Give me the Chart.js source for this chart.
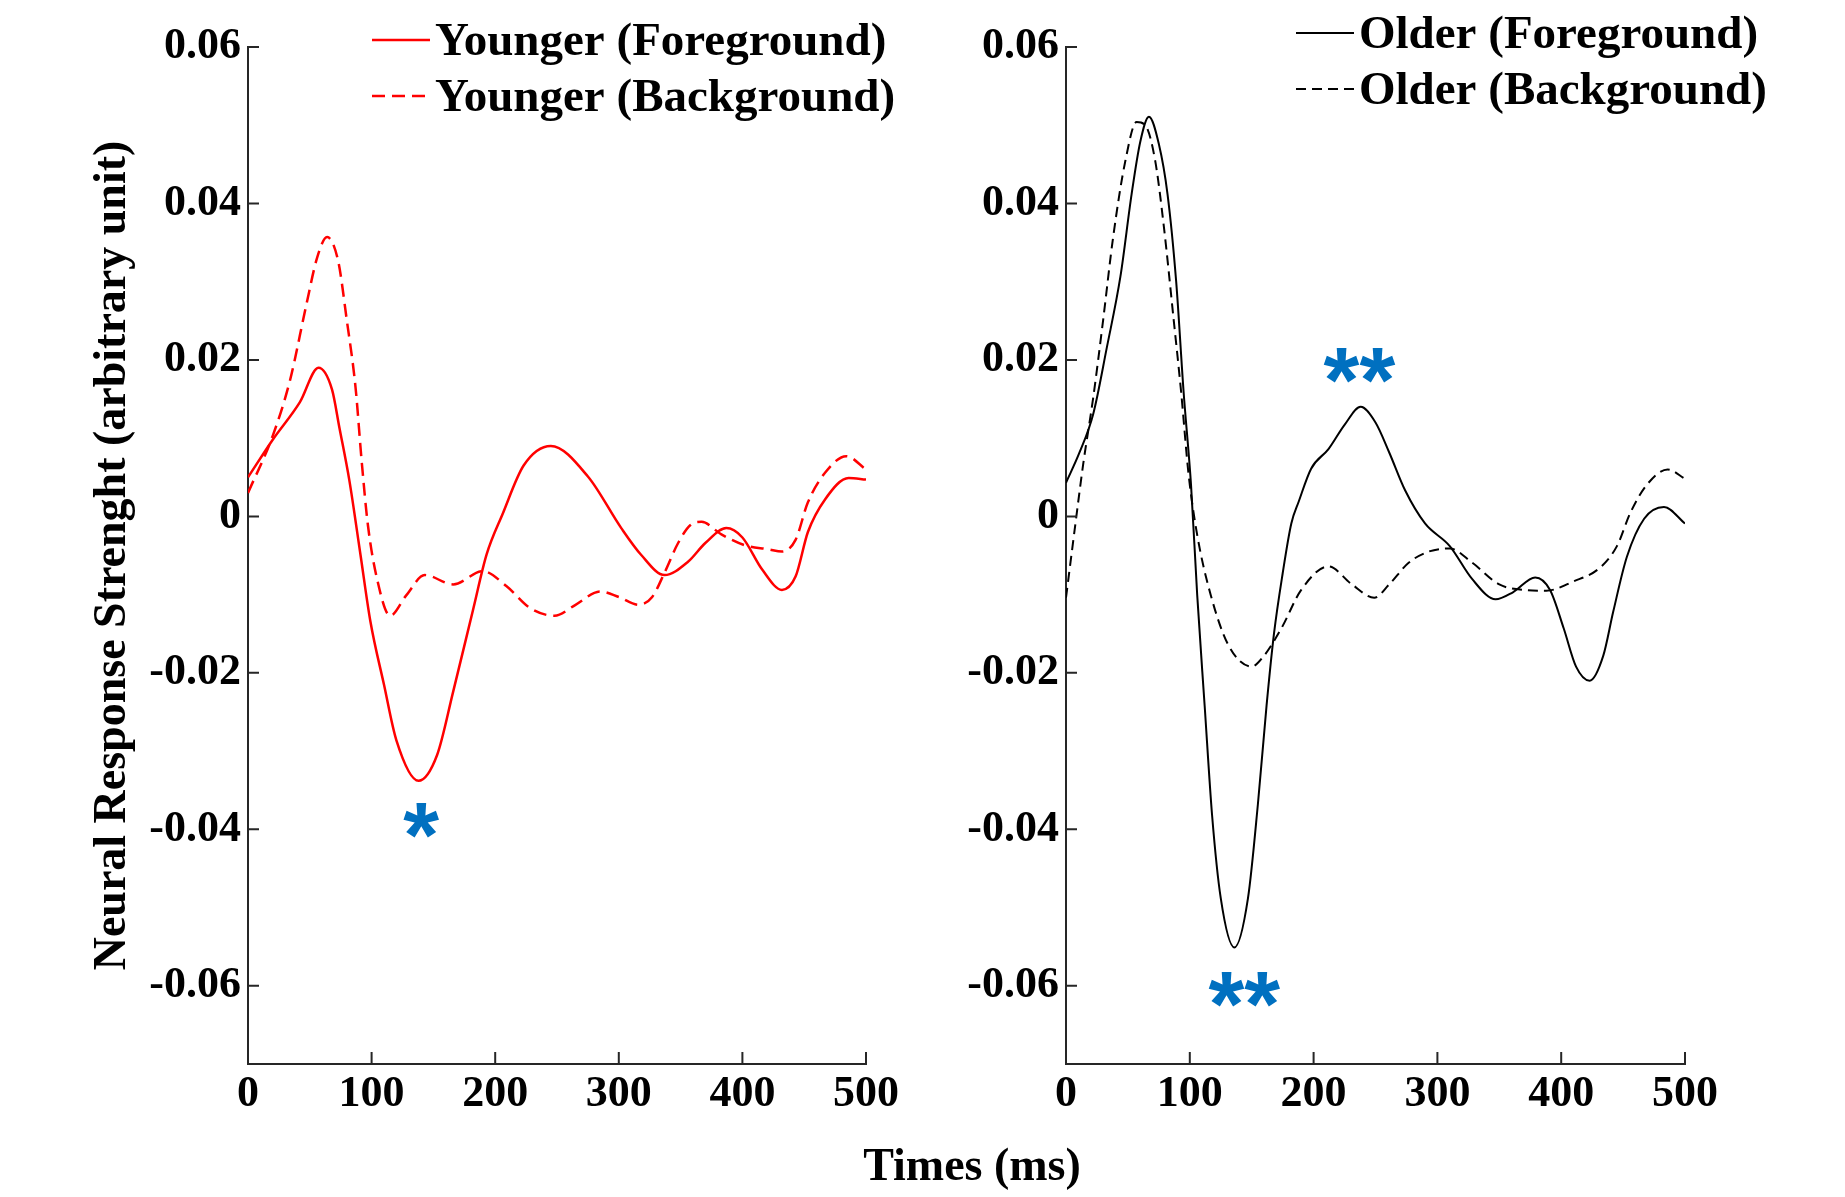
<!DOCTYPE html>
<html>
<head>
<meta charset="utf-8">
<script src="https://cdn.jsdelivr.net/npm/chart.js@4.4.1/dist/chart.umd.min.js"></script>
<style>
body{margin:0;background:#fff;width:1845px;height:1197px;position:relative;overflow:hidden}
canvas{position:absolute;top:0}
#xtitle{position:absolute;left:722px;width:500px;top:1142px;text-align:center;
  font:bold 46px 'Liberation Serif';line-height:46px;color:#000}
</style>
</head>
<body>
<canvas id="young" width="920" height="1197" style="left:0"></canvas>
<canvas id="old" width="925" height="1197" style="left:920px"></canvas>
<div id="xtitle">Times (ms)</div>
<script>
// ticks
const xTicks = [0, 100, 200, 300, 400, 500];
const yTicks = [-0.06, -0.04, -0.02, 0, 0.02, 0.04, 0.06];

// younger, foreground (solid red)
const youngFgT = [0,20,42,57,68,74,82,91,99,110,120,138,153,166,182,193,206,223,245,275,302,318,337,356,370,387,400,416,432,443,453,467,486,500];
const youngFgV = [0.0050,0.0098,0.0146,0.0190,0.0162,0.0113,0.0046,-0.0049,-0.0134,-0.0215,-0.0286,-0.0338,-0.0305,-0.0224,-0.0120,-0.0049,0.0003,0.0065,0.0090,0.0051,-0.0015,-0.0049,-0.0075,-0.0058,-0.0034,-0.0015,-0.0027,-0.0068,-0.0094,-0.0077,-0.0020,0.0022,0.0049,0.0047];

// younger, background (dashed red)
const youngBgT = [0,20,34,47,56,64,73,80,87,92,97,104,115,128,143,166,190,209,228,248,265,285,300,316,327,337,348,358,367,383,402,421,432,443,453,467,484,500];
const youngBgV = [0.0030,0.0103,0.0174,0.0269,0.0331,0.0357,0.0326,0.0250,0.0165,0.0070,-0.0011,-0.0077,-0.0127,-0.0101,-0.0075,-0.0087,-0.0070,-0.0089,-0.0117,-0.0127,-0.0113,-0.0096,-0.0103,-0.0113,-0.0103,-0.0072,-0.0034,-0.0011,-0.0007,-0.0023,-0.0037,-0.0042,-0.0045,-0.0030,0.0018,0.0056,0.0077,0.0060];

// older, foreground (solid black)
const oldFgT = [0,11,22,33,44,53,60,67,75,82,89,95,101,106,112,118,125,136,147,155,162,168,175,182,188,198,212,225,238,250,261,274,290,310,328,347,361,379,391,402,412,423,434,442,453,467,483,500];
const oldFgV = [0.0043,0.0082,0.0131,0.0216,0.0307,0.0412,0.0479,0.0511,0.0476,0.0412,0.0300,0.0159,0.0040,-0.0101,-0.0242,-0.0382,-0.0488,-0.0551,-0.0488,-0.0368,-0.0242,-0.0150,-0.0073,-0.0009,0.0019,0.0061,0.0086,0.0117,0.0140,0.0120,0.0082,0.0033,-0.0009,-0.0038,-0.0080,-0.0106,-0.0097,-0.0078,-0.0094,-0.0143,-0.0192,-0.0210,-0.0178,-0.0122,-0.0052,-0.0003,0.0012,-0.0009];

// older, background (dashed black)
const oldBgT = [0,7,14,22,30,38,48,57,64,72,79,87,93,99,106,117,131,150,160,174,190,212,231,249,261,277,293,310,328,350,369,388,410,431,445,456,469,486,500];
const oldBgV = [-0.0104,-0.0017,0.0068,0.0152,0.0251,0.0356,0.0455,0.0504,0.0500,0.0455,0.0371,0.0251,0.0159,0.0054,-0.0024,-0.0101,-0.0164,-0.0192,-0.0178,-0.0143,-0.0094,-0.0064,-0.0087,-0.0104,-0.0087,-0.0059,-0.0045,-0.0041,-0.0059,-0.0087,-0.0094,-0.0095,-0.0083,-0.0066,-0.0038,0.0005,0.0040,0.0060,0.0048];

// significance marks (time, value)
const youngStars = [{t:140, v:-0.0393, text:'*'}];
const oldStars = [{t:237, v:0.0189, text:'**'}, {t:144, v:-0.0609, text:'**'}];

const axisColor = '#262626';
const starColor = '#0070C0';

Chart.defaults.font.family = 'Liberation Serif';
Chart.defaults.font.weight = 'bold';
Chart.defaults.font.size = 44;
Chart.defaults.color = '#000';

const pts = (t, v) => t.map((x, i) => ({x, y: v[i]}));

// matlab style inward ticks, legend and stars
const extras = {
  id: 'extras',
  afterDraw(chart) {
    const {ctx, chartArea: a, scales: {x, y}} = chart;
    const o = chart.options.plugins.extras;
    ctx.save();
    ctx.strokeStyle = axisColor;
    ctx.lineWidth = 2;
    ctx.beginPath();
    yTicks.forEach(v => { const py = y.getPixelForValue(v); ctx.moveTo(a.left, py); ctx.lineTo(a.left + 11, py); });
    xTicks.forEach(v => { const px = x.getPixelForValue(v); ctx.moveTo(px, a.bottom); ctx.lineTo(px, a.bottom - 12); });
    ctx.stroke();

    // legend
    ctx.font = 'bold 47px "Liberation Serif"';
    ctx.textBaseline = 'alphabetic';
    chart.data.datasets.forEach((d, i) => {
      const ly = o.legY + i * o.legGap;
      ctx.strokeStyle = d.borderColor;
      ctx.lineWidth = d.borderWidth;
      ctx.setLineDash(d.borderDash || []);
      ctx.beginPath();
      ctx.moveTo(o.legX, ly);
      ctx.lineTo(o.legX + 58, ly);
      ctx.stroke();
      ctx.setLineDash([]);
      ctx.fillStyle = '#000';
      ctx.fillText(d.label, o.legX + 63, ly + 15);
    });

    // stars
    ctx.font = 'bold 92px "Liberation Sans"';
    ctx.fillStyle = starColor;
    ctx.textAlign = 'center';
    o.stars.forEach(s => {
      ctx.fillText(s.text, x.getPixelForValue(s.t), y.getPixelForValue(s.v) + 43);
    });
    ctx.restore();
  }
};

function panel(id, sets, pad, yWidth, legX, legY, stars, yTitle) {
  new Chart(document.getElementById(id), {
    type: 'line',
    data: {datasets: sets.map(s => ({
      label: s.label, data: pts(s.t, s.v), borderColor: s.color, borderWidth: s.w,
      borderDash: s.dash, pointRadius: 0, cubicInterpolationMode: 'monotone', fill: false
    }))},
    options: {
      responsive: false, animation: false,
      layout: {padding: pad},
      plugins: {legend: {display: false}, tooltip: {enabled: false},
        extras: {legX, legY, legGap: 56, stars}},
      scales: {
        x: {type: 'linear', min: 0, max: 500,
          afterBuildTicks: s => { s.ticks = xTicks.map(value => ({value})); },
          afterFit: s => { s.height = 60; },
          grid: {display: false, drawTicks: false},
          border: {display: true, color: axisColor, width: 2},
          ticks: {padding: 4, callback: v => String(v)}},
        y: {min: -0.07, max: 0.06,
          afterBuildTicks: s => { s.ticks = yTicks.map(value => ({value})); },
          afterFit: s => { s.width = yWidth; },
          grid: {display: false, drawTicks: false},
          border: {display: true, color: axisColor, width: 2},
          ticks: {padding: 7, callback: v => v === 0 ? '0' : v.toFixed(2)},
          title: {display: !!yTitle, text: yTitle, font: {size: 46}, padding: {top: 86}}}
      }
    },
    plugins: [extras]
  });
}

panel('young', [
  {label: 'Younger (Foreground)', t: youngFgT, v: youngFgV, color: '#ff0000', w: 2.5, dash: []},
  {label: 'Younger (Background)', t: youngBgT, v: youngBgV, color: '#ff0000', w: 2.5, dash: [13, 7]}
], {left: 0, top: 47, right: 54, bottom: 73}, 248, 372, 40, youngStars,
  'Neural Response Strenght (arbitrary unit)');

panel('old', [
  {label: 'Older (Foreground)', t: oldFgT, v: oldFgV, color: '#000000', w: 2, dash: []},
  {label: 'Older (Background)', t: oldBgT, v: oldBgV, color: '#000000', w: 2, dash: [10, 6]}
], {left: 0, top: 47, right: 160, bottom: 73}, 146, 376, 33, oldStars, '');
</script>
</body>
</html>
